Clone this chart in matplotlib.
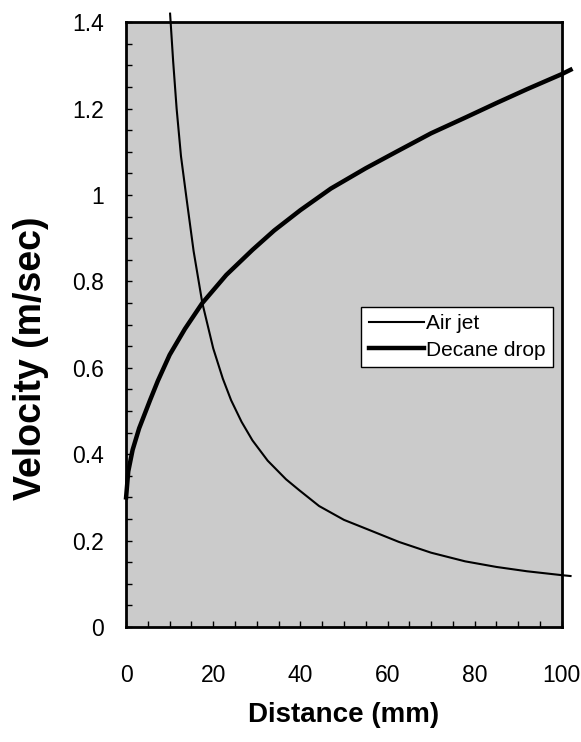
import matplotlib
matplotlib.use("Agg")
import matplotlib.pyplot as plt
from matplotlib.ticker import MultipleLocator

plt.rcParams['font.family'] = ['Liberation Sans', 'DejaVu Sans']

# values
air_x = [10.1, 10.8, 11.6, 12.6, 13.9, 15.5, 17.5, 20.0, 22.2, 24.1, 26.5, 29.0,
         32.5, 36.7, 39.7, 44.3, 50.0, 55.7, 62.6, 70.0, 77.8, 85.0, 92.0, 100.0, 102.0]
air_v = [1.42, 1.31, 1.20, 1.09, 0.99, 0.87, 0.75, 0.645, 0.575, 0.525, 0.475, 0.432,
         0.385, 0.342, 0.317, 0.28, 0.248, 0.225, 0.197, 0.172, 0.152, 0.139, 0.129, 0.12, 0.118]

drop_x = [0.0, 0.5, 1.5, 3.0, 5.5, 7.3, 10.0, 13.5, 17.5, 23.0, 29.0, 34.0, 40.0,
          47.0, 55.0, 62.0, 70.0, 78.0, 85.0, 92.0, 100.0, 102.0]
drop_v = [0.30, 0.36, 0.41, 0.46, 0.525, 0.57, 0.63, 0.69, 0.75, 0.815, 0.873, 0.918, 0.965,
          1.015, 1.062, 1.10, 1.143, 1.18, 1.213, 1.245, 1.28, 1.29]

fig = plt.figure(figsize=(5.81, 7.42), dpi=100)
ax = fig.add_axes([0.217, 0.155, 0.750, 0.815])
ax.set_facecolor('#cbcbcb')

ax.plot(air_x, air_v, color='black', linewidth=1.5, label='Air jet', clip_on=False)
ax.plot(drop_x, drop_v, color='black', linewidth=3.2, label='Decane drop', clip_on=False)

ax.set_xlim(0, 100)
ax.set_ylim(0, 1.4)
ax.xaxis.set_major_locator(MultipleLocator(20))
ax.xaxis.set_minor_locator(MultipleLocator(5))
ax.yaxis.set_minor_locator(MultipleLocator(0.05))
ax.set_yticks([0, 0.2, 0.4, 0.6, 0.8, 1.0, 1.2, 1.4])
ax.set_yticklabels(['0', '0.2', '0.4', '0.6', '0.8', '1', '1.2', '1.4'])

ax.tick_params(axis='both', which='both', direction='in', length=4, width=1,
               top=False, right=False, labelsize=16.5)
ax.tick_params(axis='x', which='major', pad=27)
ax.tick_params(axis='y', which='major', pad=16)

for s in ax.spines.values():
    s.set_linewidth(2)

ax.set_xlabel('Distance (mm)', fontsize=20, fontweight='bold')
ax.set_ylabel('Velocity (m/sec)', fontsize=27, fontweight='bold')
ax.xaxis.set_label_coords(0.5, -0.124)
ax.yaxis.set_label_coords(-0.176, 0.445)

leg = ax.legend(loc='upper left', bbox_to_anchor=(0.54, 0.529), fontsize=15,
                frameon=True, fancybox=False, framealpha=1, edgecolor='black',
                handlelength=2.65, handletextpad=0.1, borderpad=0.35, labelspacing=0.35,
                borderaxespad=0)
leg.get_frame().set_linewidth(1)

fig.savefig('out.png', dpi=100)
